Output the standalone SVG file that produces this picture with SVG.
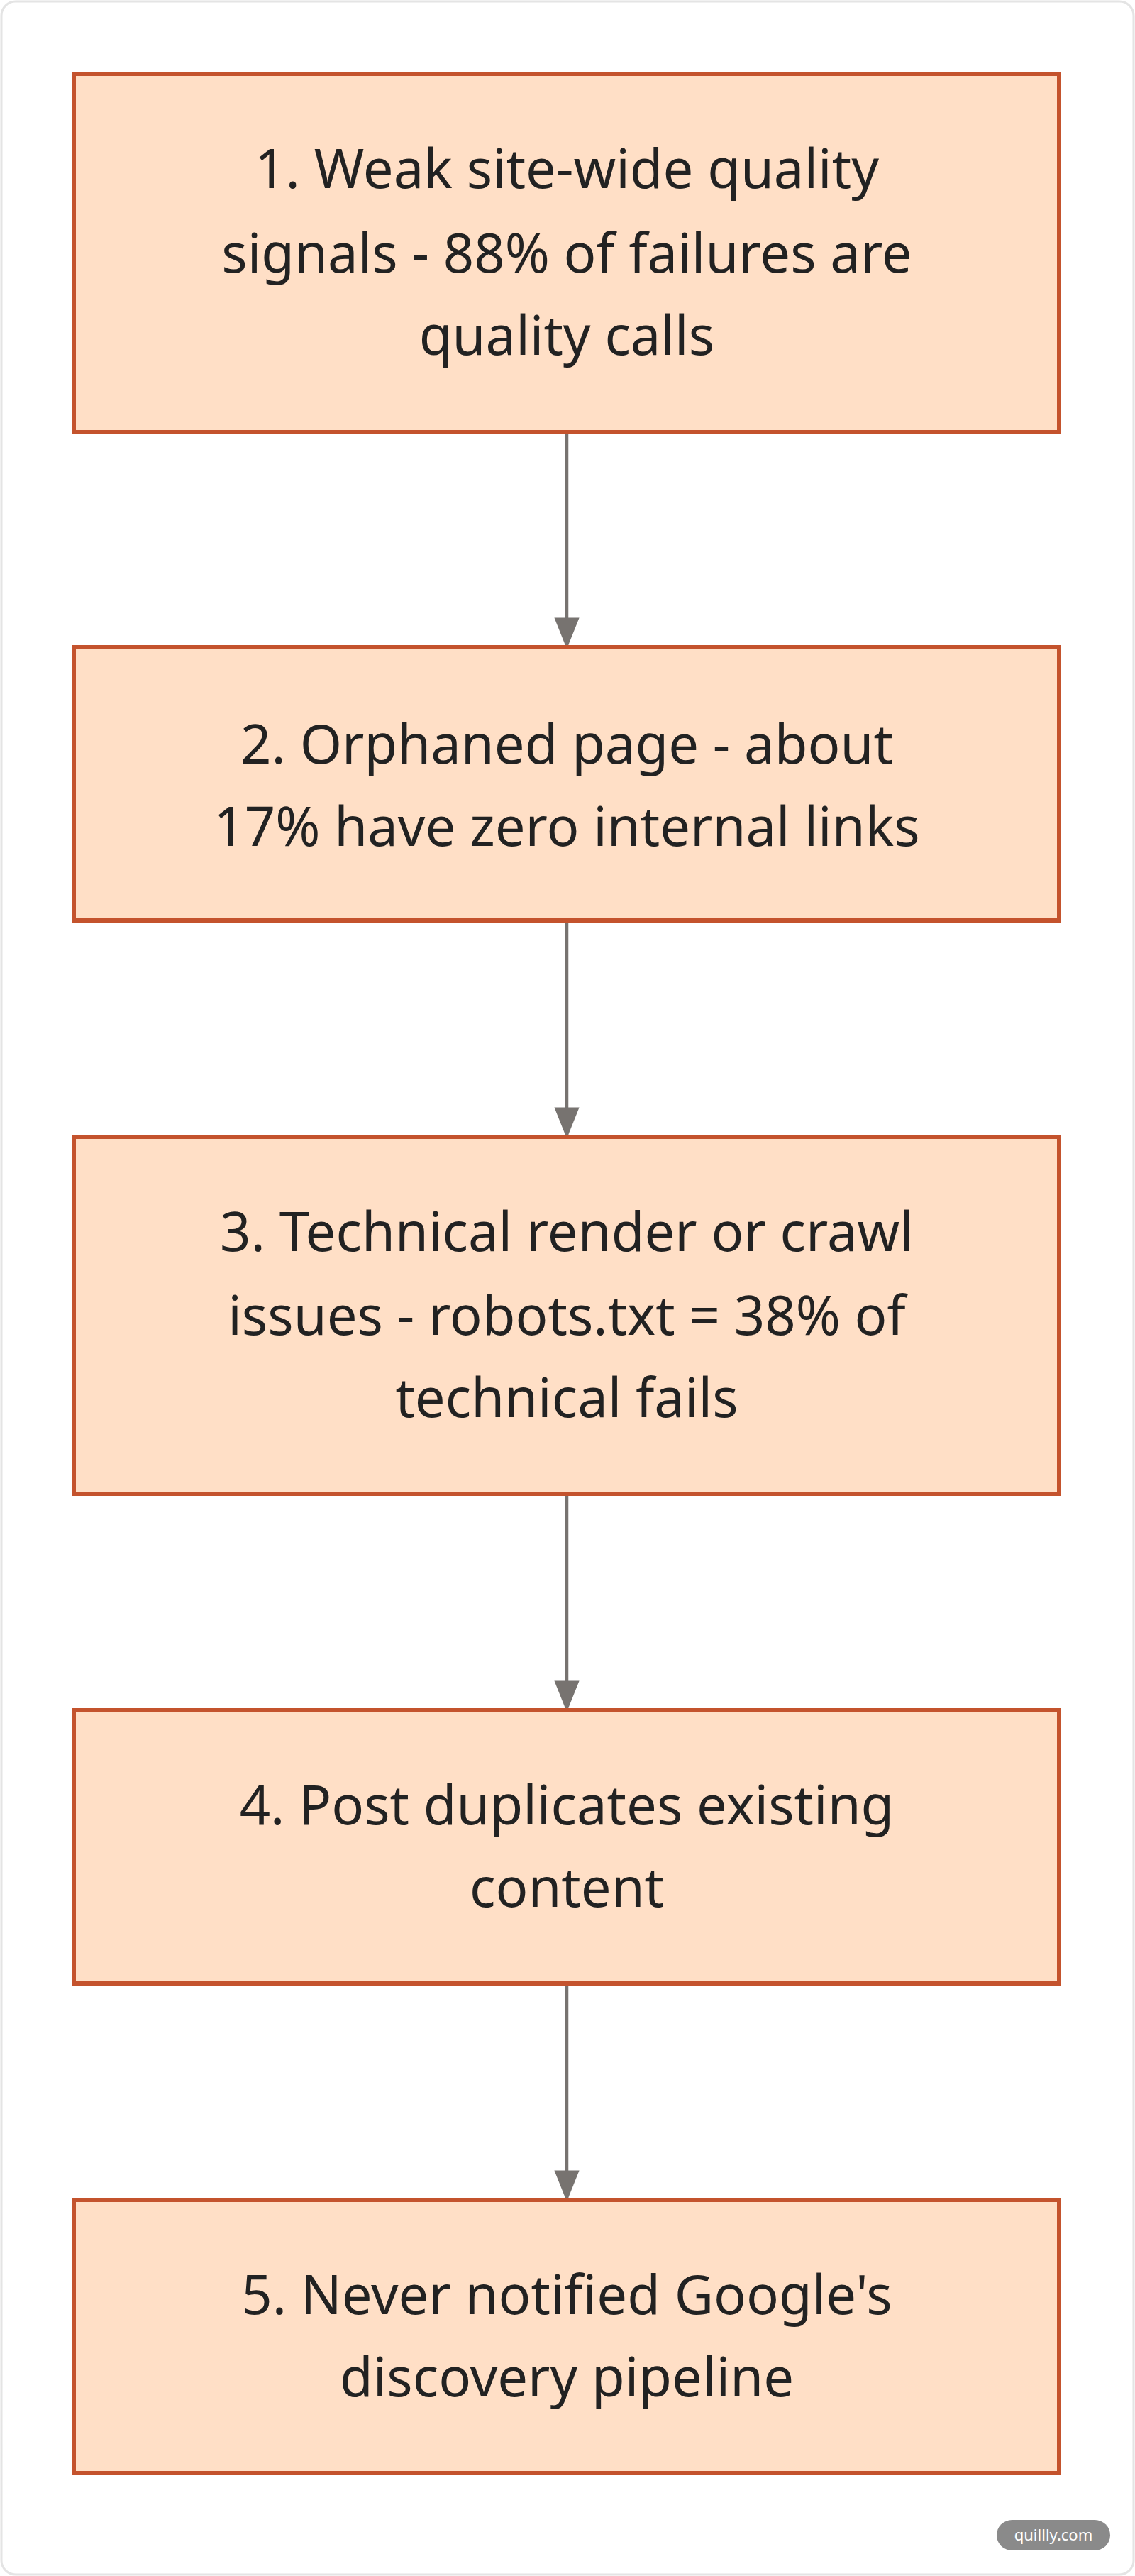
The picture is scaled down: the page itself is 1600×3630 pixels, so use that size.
<svg xmlns="http://www.w3.org/2000/svg" width="1600" height="3630" viewBox="0 0 1600 3630">
<style>
.box{fill:#ffdfc6;stroke:#c4532d;stroke-width:6}
.t{font-family:"Noto Sans","Open Sans",sans-serif;font-size:76px;fill:#222;text-anchor:middle}
.e{stroke:#777370;stroke-width:4.5;fill:none}
</style>
<defs><marker id="a" viewBox="0 0 10 10" refX="10" refY="5" markerWidth="10" markerHeight="10" markerUnits="userSpaceOnUse" orient="auto"><path d="M0,0L10,5L0,10z" fill="#777370"/></marker>
<marker id="ah" viewBox="0 0 10 10" refX="9" refY="5" markerWidth="44" markerHeight="44" markerUnits="userSpaceOnUse" orient="auto"><path d="M0,1L10,5L0,9z" fill="#777370"/></marker></defs>
<rect x="2" y="2" width="1596" height="3626" rx="20" fill="#fff" stroke="#e4e4e4" stroke-width="3"/>
<g id="connectors">
<line class="e" x1="799" y1="612" x2="799" y2="910" marker-end="url(#ah)"/>
<line class="e" x1="799" y1="1300" x2="799" y2="1600" marker-end="url(#ah)"/>
<line class="e" x1="799" y1="2108" x2="799" y2="2408" marker-end="url(#ah)"/>
<line class="e" x1="799" y1="2798" x2="799" y2="3098" marker-end="url(#ah)"/>
</g>
<g id="n1"><rect class="box" x="104" y="104" width="1389" height="505"/>
<text class="t" x="799" y="265">1. Weak site-wide quality</text><text class="t" x="799" y="384">signals - 88% of failures are</text><text class="t" x="799" y="500">quality calls</text></g>
<g id="n2"><rect class="box" x="104" y="912" width="1389" height="385"/>
<text class="t" x="799" y="1076">2. Orphaned page - about</text><text class="t" x="799" y="1192">17% have zero internal links</text></g>
<g id="n3"><rect class="box" x="104" y="1602" width="1389" height="503"/>
<text class="t" x="799" y="1763">3. Technical render or crawl</text><text class="t" x="799" y="1881">issues - robots.txt = 38% of</text><text class="t" x="799" y="1997">technical fails</text></g>
<g id="n4"><rect class="box" x="104" y="2410" width="1389" height="385"/>
<text class="t" x="799" y="2571">4. Post duplicates existing</text><text class="t" x="799" y="2687">content</text></g>
<g id="n5"><rect class="box" x="104" y="3100" width="1389" height="385"/>
<text class="t" x="799" y="3261">5. Never notified Google's</text><text class="t" x="799" y="3377">discovery pipeline</text></g>
<g id="wm"><rect x="1405" y="3551" width="160" height="43" rx="21.5" fill="#8a8a8a"/>
<text x="1485" y="3580" font-family="Noto Sans,sans-serif" font-size="22" fill="#fff" text-anchor="middle">quillly.com</text></g>
</svg>
